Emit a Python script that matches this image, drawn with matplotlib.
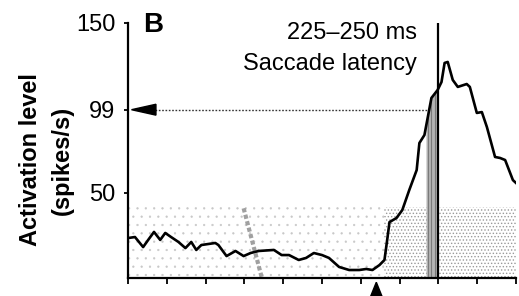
import matplotlib
matplotlib.use("Agg")
import matplotlib.pyplot as plt
from matplotlib.patches import Polygon, Rectangle
import numpy as np

# ---- data (x in tick units, y in spikes/s) ----
time_x = [0.0, 0.18, 0.39, 0.52, 0.67, 0.83, 0.96, 1.11, 1.30, 1.48, 1.63, 1.76, 1.89,
          2.25, 2.33, 2.54, 2.77, 2.98, 3.16, 3.37, 3.76, 3.96, 4.15, 4.40, 4.59, 4.79,
          5.00, 5.18, 5.44, 5.70, 5.96, 6.14, 6.30, 6.48, 6.61, 6.68, 6.74, 6.92, 7.07,
          7.25, 7.44, 7.51, 7.64, 7.82, 7.98, 8.08, 8.16, 8.24, 8.37, 8.50, 8.73, 8.81,
          8.99, 9.12, 9.25, 9.46, 9.59, 9.72, 9.92, 10.0]
activation = [23.5, 24.1, 18.2, 22.4, 27.1, 22.4, 26.5, 24.1, 21.2, 17.6, 21.2, 16.5, 19.4,
              20.6, 19.4, 12.9, 15.9, 12.9, 14.7, 15.9, 16.5, 13.5, 13.5, 10.6, 11.8, 14.7,
              13.5, 11.8, 6.5, 4.7, 4.7, 5.3, 4.7, 7.6, 10.6, 22.4, 32.9, 35.3, 40.0,
              51.8, 63.5, 79.4, 84.1, 105.9, 110.6, 115.3, 126.5, 127.1, 116.5, 112.4, 114.1, 112.4,
              97.1, 97.6, 88.8, 71.2, 70.6, 69.4, 57.6, 55.9]
x_ticks = list(range(0, 11))
y_ticks = [50, 99, 150]
y_tick_labels = ["50", "99", "150"]
threshold = 99
saccade_time = 8.0
latency_band = [7.68, 8.0]
target_onset = 6.4
raster_top = 42
raster_change = 6.6
streak_top = (2.98, 41)
streak_bottom = (3.45, 0)

plt.rcParams['font.family'] = ['Liberation Sans', 'DejaVu Sans']

fig = plt.figure(figsize=(5.19, 2.96), dpi=100)
ax = fig.add_axes([128/519, 1-278/296, 388/519, 255/296])
ax.set_xlim(0, 10)
ax.set_ylim(0, 150)

# raster texture
plt.rcParams['hatch.linewidth'] = 0.4
ax.add_patch(Rectangle((0, 0), raster_change, raster_top, facecolor='none',
                       edgecolor='#c8c8c8', hatch='..', linewidth=0, zorder=1))
plt.rcParams['hatch.linewidth'] = 0.6
ax.add_patch(Rectangle((raster_change, 0), 10-raster_change, raster_top, facecolor='none',
                       edgecolor='#9a9a9a', hatch='.....', linewidth=0, zorder=1))
# slanted streak
ax.plot([streak_top[0], streak_bottom[0]], [streak_top[1], streak_bottom[1]],
        color='#a0a0a0', lw=3.0, ls=(0, (1, 0.6)), zorder=2)

# latency band: fill under the curve
xs = np.array(time_x); ys = np.array(activation)
xb = np.linspace(latency_band[0], latency_band[1], 30)
yb = np.interp(xb, xs, ys)
ax.fill_between(xb, 0, yb, color='#b4b4b4', zorder=2, lw=0)
for xv in [7.74, 7.82, 7.9]:
    ax.plot([xv, xv], [0, np.interp(xv, xs, ys)], color='#7a7a7a', lw=0.8, zorder=2)

# saccade line
ax.plot([saccade_time, saccade_time], [0, 150], color='black', lw=1.6, zorder=4)

# curve
ax.plot(time_x, activation, color='black', lw=1.9, zorder=5)

# threshold dotted line & arrow
cross_x = np.interp(threshold, ys[:45], xs[:45])
ax.plot([0.7, cross_x], [threshold, threshold], color='#333333', lw=1.0,
        ls=(0, (1.2, 1.2)), zorder=3)
ax.add_patch(Polygon([[0.09, threshold], [0.72, threshold+3.2], [0.72, threshold-3.2]],
                     closed=True, color='black', zorder=6, clip_on=False))

# target onset arrow below axis
ax.add_patch(Polygon([[target_onset, -2.5], [target_onset-0.15, -11], [target_onset+0.15, -11]],
                     closed=True, color='black', zorder=6, clip_on=False))

# axes styling
for s in ['top', 'right']:
    ax.spines[s].set_visible(False)
ax.spines['left'].set_linewidth(1.6)
ax.spines['bottom'].set_linewidth(1.6)
ax.set_xticks(x_ticks)
ax.set_xticklabels([])
ax.tick_params(axis='x', direction='out', length=4, width=1.3)
ax.set_yticks(y_ticks)
ax.set_yticklabels(y_tick_labels, fontsize=17)
ax.tick_params(axis='y', direction='out', length=3, width=1.3, pad=6)

# texts
fig.text(31/519, 1-160/296, "Activation level", rotation=90, fontsize=17,
         fontweight='bold', ha='center', va='center')
fig.text(62/519, 1-160/296, "(spikes/s)", rotation=90, fontsize=17,
         fontweight='bold', ha='center', va='center')
fig.text(143/519, 1-32/296, "B", fontsize=20, fontweight='bold', ha='left', va='baseline')
fig.text(417/519, 1-39/296, "225\u2013250 ms", fontsize=17, ha='right', va='baseline')
fig.text(417/519, 1-70/296, "Saccade latency", fontsize=17, ha='right', va='baseline')

fig.savefig("out.png", dpi=100)
